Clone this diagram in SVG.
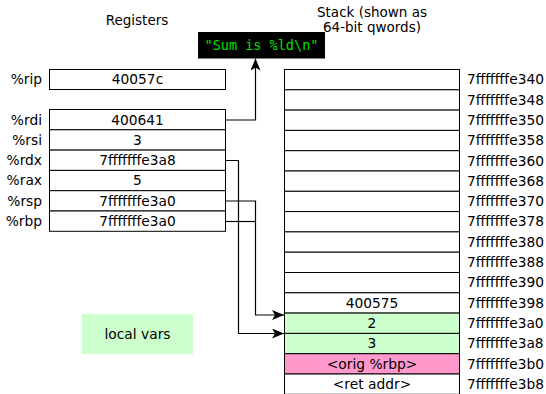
<svg xmlns="http://www.w3.org/2000/svg" width="546" height="394" viewBox="0 0 546 394">
<defs>
<style>
text{font-family:"DejaVu Sans",sans-serif;font-size:13.8px;fill:#000}
.t{font-size:13.5px}
.c{text-anchor:middle}
.r{text-anchor:end}
.box{fill:#fff;stroke:#000;stroke-width:1}
.g{fill:#ccffcc}
.p{fill:#ff99cc}
.conn{fill:none;stroke:#000;stroke-width:1.2}
.mono{font-family:"DejaVu Sans Mono",monospace;font-size:13.5px;fill:#00e000}
</style>
<marker id="ah" viewBox="0 0 12 10" refX="12" refY="5" markerWidth="12" markerHeight="10" markerUnits="userSpaceOnUse" orient="auto">
<path d="M0,0 L12,5 L0,10 L3,5 Z" fill="#000"/>
</marker>
</defs>
<rect width="546" height="394" fill="#fff"/>
<text class="c t" x="137" y="24.5">Registers</text>
<text class="c t" x="372" y="17">Stack (shown as</text>
<text class="c t" x="372" y="32">64-bit qwords)</text>
<g id="fmt">
<rect x="198" y="32" width="127" height="26.5" fill="#000"/>
<text class="mono c" x="261.5" y="50">"Sum is %ld\n"</text>
</g>
<g id="registers">
<g id="rip"><rect class="box" x="49.5" y="69.5" width="176" height="20"/><text class="r" x="42" y="84">%rip</text><text class="c" x="137.5" y="84">40057c</text></g>
<g id="rdi"><rect class="box" x="49.5" y="109.5" width="176" height="20.3"/><text class="r" x="42" y="124.5">%rdi</text><text class="c" x="137.5" y="124.5">400641</text></g>
<g id="rsi"><rect class="box" x="49.5" y="129.8" width="176" height="20.3"/><text class="r" x="42" y="144.8">%rsi</text><text class="c" x="137.5" y="144.8">3</text></g>
<g id="rdx"><rect class="box" x="49.5" y="150.1" width="176" height="20.3"/><text class="r" x="42" y="165.1">%rdx</text><text class="c" x="137.5" y="165.1">7fffffffe3a8</text></g>
<g id="rax"><rect class="box" x="49.5" y="170.4" width="176" height="20.3"/><text class="r" x="42" y="185.4">%rax</text><text class="c" x="137.5" y="185.4">5</text></g>
<g id="rsp"><rect class="box" x="49.5" y="190.7" width="176" height="20.3"/><text class="r" x="42" y="205.7">%rsp</text><text class="c" x="137.5" y="205.7">7fffffffe3a0</text></g>
<g id="rbp"><rect class="box" x="49.5" y="211" width="176" height="20.3"/><text class="r" x="42" y="226">%rbp</text><text class="c" x="137.5" y="226">7fffffffe3a0</text></g>
</g>
<g id="legend">
<rect class="g" x="82" y="314" width="111" height="40"/>
<text class="c" x="137.5" y="339">local vars</text>
</g>
<g id="stack">
<g><rect class="box" x="284.5" y="69.5" width="175" height="20.3"/><text x="467" y="84.3">7fffffffe340</text></g>
<g><rect class="box" x="284.5" y="89.8" width="175" height="20.3"/><text x="467" y="104.6">7fffffffe348</text></g>
<g><rect class="box" x="284.5" y="110.1" width="175" height="20.3"/><text x="467" y="124.9">7fffffffe350</text></g>
<g><rect class="box" x="284.5" y="130.4" width="175" height="20.3"/><text x="467" y="145.2">7fffffffe358</text></g>
<g><rect class="box" x="284.5" y="150.7" width="175" height="20.3"/><text x="467" y="165.5">7fffffffe360</text></g>
<g><rect class="box" x="284.5" y="171" width="175" height="20.3"/><text x="467" y="185.8">7fffffffe368</text></g>
<g><rect class="box" x="284.5" y="191.3" width="175" height="20.3"/><text x="467" y="206.1">7fffffffe370</text></g>
<g><rect class="box" x="284.5" y="211.6" width="175" height="20.3"/><text x="467" y="226.4">7fffffffe378</text></g>
<g><rect class="box" x="284.5" y="231.9" width="175" height="20.3"/><text x="467" y="246.7">7fffffffe380</text></g>
<g><rect class="box" x="284.5" y="252.2" width="175" height="20.3"/><text x="467" y="267">7fffffffe388</text></g>
<g><rect class="box" x="284.5" y="272.5" width="175" height="20.3"/><text x="467" y="287.3">7fffffffe390</text></g>
<g><rect class="box" x="284.5" y="292.8" width="175" height="20.3"/><text class="c" x="372" y="307.6">400575</text><text x="467" y="307.6">7fffffffe398</text></g>
<g><rect class="box g" x="284.5" y="313.1" width="175" height="20.3"/><text class="c" x="372" y="327.9">2</text><text x="467" y="327.9">7fffffffe3a0</text></g>
<g><rect class="box g" x="284.5" y="333.4" width="175" height="20.3"/><text class="c" x="372" y="348.2">3</text><text x="467" y="348.2">7fffffffe3a8</text></g>
<g><rect class="box p" x="284.5" y="353.7" width="175" height="20.3"/><text class="c" x="372" y="368.5">&lt;orig %rbp&gt;</text><text x="467" y="368.5">7fffffffe3b0</text></g>
<g><rect class="box" x="284.5" y="374" width="175" height="20.3"/><text class="c" x="372" y="388.8">&lt;ret addr&gt;</text><text x="467" y="388.8">7fffffffe3b8</text></g>
</g>
<g id="connectors">
<path class="conn" d="M225.5,120 H255.5 V58.5" marker-end="url(#ah)"/>
<path class="conn" d="M225.5,160.5 H238.5 V333.5 H284" marker-end="url(#ah)"/>
<path class="conn" d="M225.5,201 H255.5 V315 H284" marker-end="url(#ah)"/>
<path class="conn" d="M225.5,221.5 H255.5"/>
</g>
</svg>
